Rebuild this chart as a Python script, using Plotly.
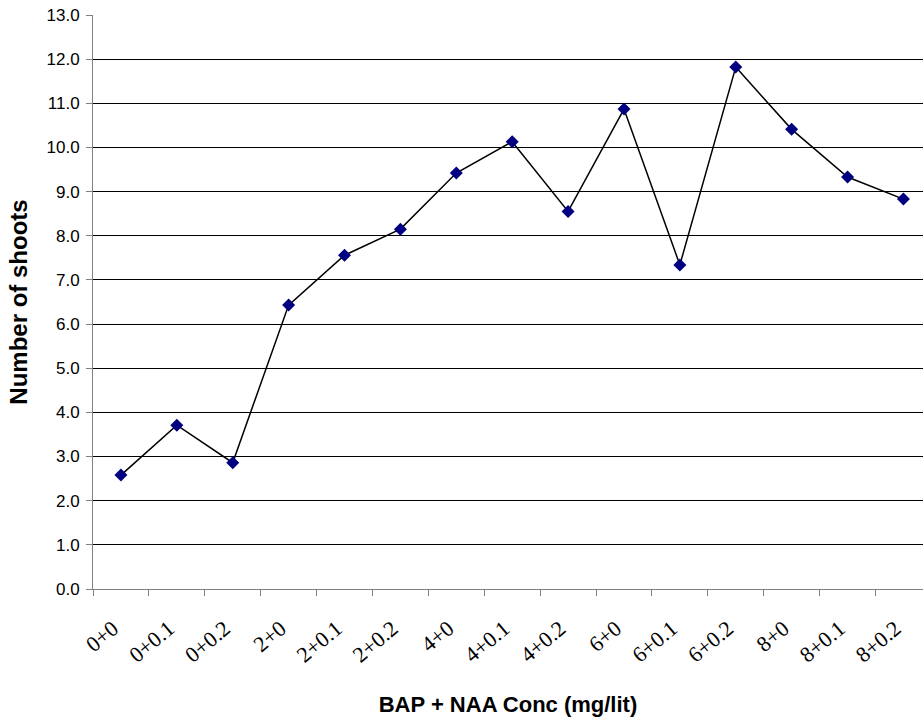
import plotly.graph_objects as go

# BAP + NAA treatment combinations (mg/lit)
treatments = ["0+0", "0+0.1", "0+0.2", "2+0", "2+0.1", "2+0.2", "4+0", "4+0.1",
              "4+0.2", "6+0", "6+0.1", "6+0.2", "8+0", "8+0.1", "8+0.2"]
# Mean number of shoots per explant
shoots = [2.58, 3.71, 2.86, 6.43, 7.56, 8.15, 9.42, 10.13,
          8.55, 10.87, 7.34, 11.82, 10.41, 9.33, 8.83]
y_ticks = [0, 1, 2, 3, 4, 5, 6, 7, 8, 9, 10, 11, 12, 13]
y_tick_text = [f"{v:.1f}" for v in y_ticks]

fig = go.Figure(
    go.Scatter(
        x=treatments,
        y=shoots,
        mode="lines+markers",
        line=dict(color="black", width=1.5),
        marker=dict(symbol="diamond", size=10, color="#000080",
                    line=dict(color="#000080", width=0)),
        showlegend=False,
    )
)

fig.update_layout(
    width=923,
    height=717,
    margin=dict(l=93, r=0, t=15, b=128),
    paper_bgcolor="white",
    plot_bgcolor="white",
    font=dict(family="Liberation Sans, Arial", color="black"),
    xaxis=dict(
        type="category",
        range=[-0.5, 14.35],
        automargin=False,
        tickson="boundaries",
        ticks="outside",
        ticklen=6,
        tickcolor="#808080",
        showline=True,
        linecolor="#808080",
        linewidth=1,
        showgrid=False,
        tickangle=-40,
        ticklabelstandoff=17,
        ticklabelshift=-8,
        tickfont=dict(family="Liberation Serif, Times New Roman", size=22),
        title=dict(text="<b>BAP + NAA Conc (mg/lit)</b>",
                   font=dict(family="Liberation Sans, Arial", size=22),
                   standoff=35),
    ),
    yaxis=dict(
        range=[0, 13],
        automargin=False,
        tickvals=y_ticks,
        ticktext=y_tick_text,
        ticks="outside",
        ticklen=6,
        tickcolor="#808080",
        showline=True,
        linecolor="#808080",
        linewidth=1,
        showgrid=True,
        gridcolor="black",
        gridwidth=1,
        zeroline=False,
        ticklabelstandoff=3,
        tickfont=dict(family="Liberation Sans, Arial", size=17),
        title=dict(text="<b>Number of shoots</b>",
                   font=dict(family="Liberation Sans, Arial", size=24),
                   standoff=12),
    ),
)

fig.write_html("out.html")
